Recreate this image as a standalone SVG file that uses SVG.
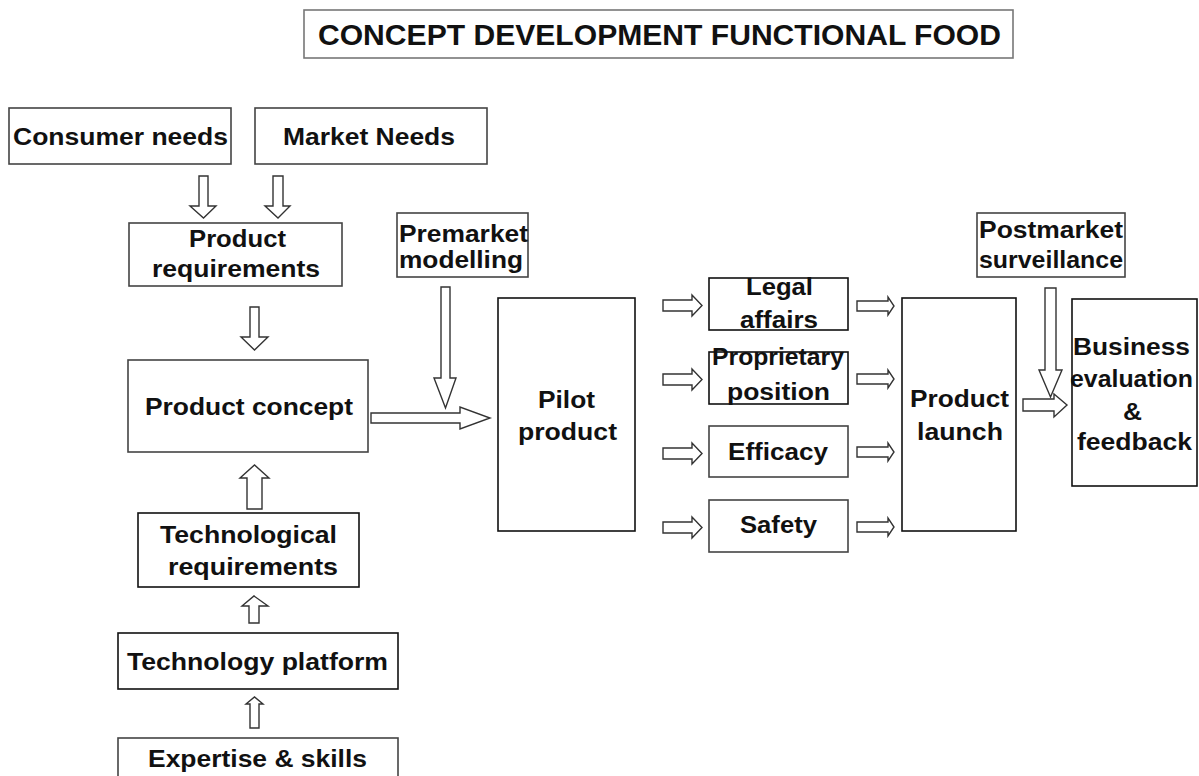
<svg xmlns="http://www.w3.org/2000/svg" width="1199" height="776" viewBox="0 0 1199 776">
<style>
.box{fill:#fff;stroke:#444;stroke-width:1.6}
.dark{stroke:#111}
.t{font-family:"Liberation Sans",Arial,sans-serif;font-weight:bold;font-size:23px;fill:#111}
.tt{font-size:29px}
.arr{fill:#fff;stroke:#333;stroke-width:1.4;stroke-linejoin:miter}
</style>
<rect width="1199" height="776" fill="#fff"/>
<g id="title">
<rect x="304" y="10" width="709" height="48" fill="#fff" stroke="#777" stroke-width="1.6"/>
<text class="t tt" x="318" y="45" textLength="683" lengthAdjust="spacingAndGlyphs">CONCEPT DEVELOPMENT FUNCTIONAL FOOD</text>
</g>
<g id="consumer-needs">
<rect class="box" x="9" y="108" width="222" height="56"/>
<text class="t" x="13" y="145" textLength="215" lengthAdjust="spacingAndGlyphs">Consumer needs</text>
</g>
<g id="market-needs">
<rect class="box" x="255" y="108" width="232" height="56"/>
<text class="t" x="283" y="145" textLength="172" lengthAdjust="spacingAndGlyphs">Market Needs</text>
</g>
<g id="product-requirements">
<rect class="box" x="129" y="223" width="213" height="63"/>
<text class="t" x="189" y="247" textLength="97" lengthAdjust="spacingAndGlyphs">Product</text>
<text class="t" x="152" y="277" textLength="168" lengthAdjust="spacingAndGlyphs">requirements</text>
</g>
<g id="premarket-modelling">
<rect class="box" x="397" y="213" width="131" height="64" stroke="#777"/>
<text class="t" x="399" y="242" textLength="129" lengthAdjust="spacingAndGlyphs">Premarket</text>
<text class="t" x="399" y="268" textLength="124" lengthAdjust="spacingAndGlyphs">modelling</text>
</g>
<g id="product-concept">
<rect class="box" x="128" y="360" width="240" height="92"/>
<text class="t" x="145" y="415" textLength="208" lengthAdjust="spacingAndGlyphs">Product concept</text>
</g>
<g id="technological-requirements">
<rect class="box dark" x="138" y="513" width="221" height="74"/>
<text class="t" x="160" y="543" textLength="177" lengthAdjust="spacingAndGlyphs">Technological</text>
<text class="t" x="168" y="575" textLength="170" lengthAdjust="spacingAndGlyphs">requirements</text>
</g>
<g id="technology-platform">
<rect class="box dark" x="118" y="633" width="280" height="56"/>
<text class="t" x="127" y="670" textLength="261" lengthAdjust="spacingAndGlyphs">Technology platform</text>
</g>
<g id="expertise-skills">
<rect class="box" x="118" y="738" width="280" height="50"/>
<text class="t" x="148" y="767" textLength="219" lengthAdjust="spacingAndGlyphs">Expertise &amp; skills</text>
</g>
<g id="pilot-product">
<rect class="box dark" x="498" y="298" width="137" height="233"/>
<text class="t" x="538" y="408" textLength="57" lengthAdjust="spacingAndGlyphs">Pilot</text>
<text class="t" x="518" y="440" textLength="99" lengthAdjust="spacingAndGlyphs">product</text>
</g>
<g id="legal-affairs">
<rect class="box dark" x="709" y="278" width="139" height="52"/>
<text class="t" x="746" y="295" textLength="67" lengthAdjust="spacingAndGlyphs">Legal</text>
<text class="t" x="740" y="328" textLength="78" lengthAdjust="spacingAndGlyphs">affairs</text>
</g>
<g id="proprietary-position">
<rect class="box dark" x="709" y="352" width="139" height="52"/>
<text class="t" x="712" y="365" textLength="132" lengthAdjust="spacingAndGlyphs">Proprietary</text>
<text class="t" x="727" y="400" textLength="103" lengthAdjust="spacingAndGlyphs">position</text>
</g>
<g id="efficacy">
<rect class="box" x="709" y="426" width="139" height="51"/>
<text class="t" x="728" y="460" textLength="100" lengthAdjust="spacingAndGlyphs">Efficacy</text>
</g>
<g id="safety">
<rect class="box" x="709" y="500" width="139" height="52"/>
<text class="t" x="740" y="533" textLength="77" lengthAdjust="spacingAndGlyphs">Safety</text>
</g>
<g id="postmarket-surveillance">
<rect class="box" x="977" y="213" width="148" height="64" stroke="#777"/>
<text class="t" x="979" y="238" textLength="144" lengthAdjust="spacingAndGlyphs">Postmarket</text>
<text class="t" x="979" y="268" textLength="144" lengthAdjust="spacingAndGlyphs">surveillance</text>
</g>
<g id="product-launch">
<rect class="box dark" x="902" y="298" width="114" height="233"/>
<text class="t" x="910" y="407" textLength="99" lengthAdjust="spacingAndGlyphs">Product</text>
<text class="t" x="917" y="440" textLength="86" lengthAdjust="spacingAndGlyphs">launch</text>
</g>
<g id="business-evaluation">
<rect class="box dark" x="1072" y="299" width="125" height="187"/>
<text class="t" x="1073" y="355" textLength="117" lengthAdjust="spacingAndGlyphs">Business</text>
<text class="t" x="1070" y="387" textLength="123" lengthAdjust="spacingAndGlyphs">evaluation</text>
<text class="t" x="1123" y="420" textLength="19" lengthAdjust="spacingAndGlyphs">&amp;</text>
<text class="t" x="1077" y="450" textLength="115" lengthAdjust="spacingAndGlyphs">feedback</text>
</g>
<g id="connectors">
<polygon class="arr" points="199,176 208,176 208,206 216,206 203.5,218 190,206 199,206"/>
<polygon class="arr" points="273,176 283,176 283,206 290,206 278,218 265,206 273,206"/>
<polygon class="arr" points="250,307 259,307 259,337 268,337 254.5,350 241,337 250,337"/>
<polygon class="arr" points="441,287 450,287 450,378 456,378 445.5,408 434,378 441,378"/>
<polygon class="arr" points="1045,288 1056,288 1056,370 1062,370 1050.5,397 1039,370 1045,370"/>
<polygon class="arr" points="247,509 262,509 262,478 269,478 254.5,465 240,478 247,478"/>
<polygon class="arr" points="249,623 259,623 259,606 268,606 254,596 242,606 249,606"/>
<polygon class="arr" points="250,728 259,728 259,704 263,704 254.5,697 246,704 250,704"/>
<polygon class="arr" points="371,413 460,413 460,407 490,418 460,429 460,423 371,423"/>
<polygon class="arr" points="663,300 692,300 692,295 702,305.5 692,316 692,311 663,311"/>
<polygon class="arr" points="663,374 692,374 692,369 702,379.5 692,390 692,385 663,385"/>
<polygon class="arr" points="663,448 692,448 692,443 702,453.5 692,464 692,459 663,459"/>
<polygon class="arr" points="663,522 692,522 692,517 702,527.5 692,538 692,533 663,533"/>
<polygon class="arr" points="857,301 888,301 888,297 894,306 888,315 888,311 857,311"/>
<polygon class="arr" points="857,374 888,374 888,370 894,379 888,388 888,384 857,384"/>
<polygon class="arr" points="857,447 888,447 888,443 894,452 888,461 888,457 857,457"/>
<polygon class="arr" points="857,522 888,522 888,518 894,527 888,536 888,532 857,532"/>
<polygon class="arr" points="1023,399 1054,399 1054,394 1067,405 1054,417 1054,411 1023,411"/>
</g>
</svg>
